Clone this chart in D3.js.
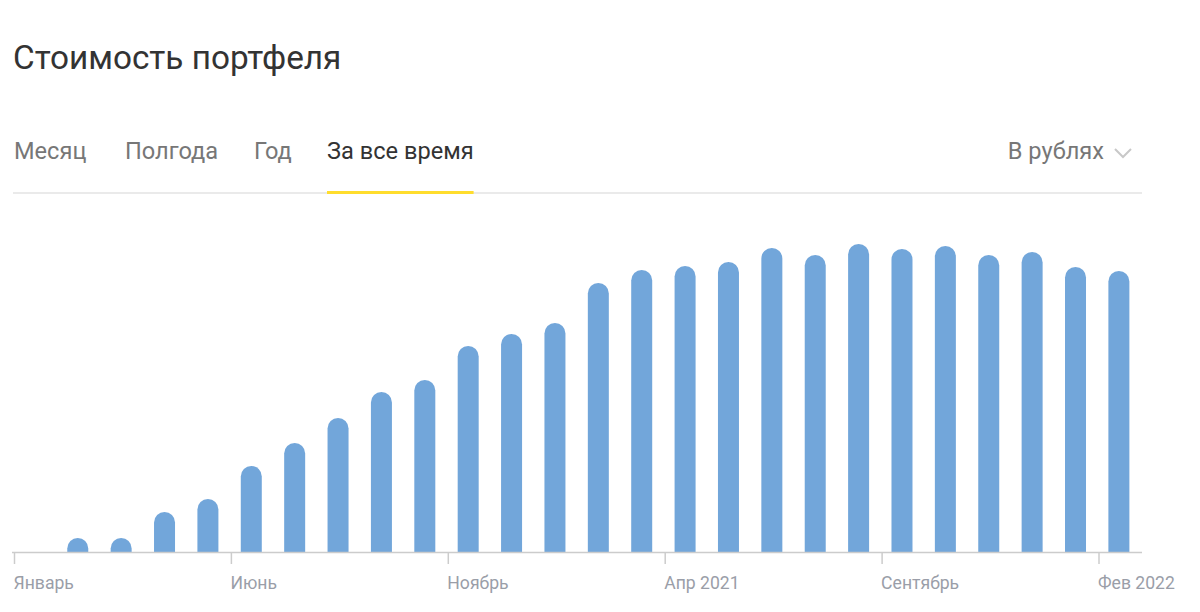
<!DOCTYPE html>
<html>
<head>
<meta charset="utf-8">
<script src="https://cdn.jsdelivr.net/npm/d3@7"></script>
<style>
  html, body { margin: 0; padding: 0; background: #fff; }
  svg { display: block; font-family: Roboto, "Noto Sans", sans-serif; }
</style>
</head>
<body>
<svg id="chart" width="1200" height="612"></svg>
<script>
// ---- data ----
const title = "Стоимость портфеля";
const tabs = ["Месяц", "Полгода", "Год", "За все время"];
const activeTab = "За все время";
const currencyLabel = "В рублях";
// months since Jan 2020 (0 = Январь 2020)
const barMonths = [1,2,3,4,5,6,7,8,9,10,11,12,13,14,15,16,17,18,19,20,21,22,23,24,25];
const barValues = [14,14,40,53,86,109,134,160,172,206,218,229,269,282,286,290,304,297,308,303,306,297,300,285,281];
const tickMonths = [0, 5, 10, 15, 20, 25];
const tickLabels = ["Январь", "Июнь", "Ноябрь", "Апр 2021", "Сентябрь", "Фев 2022"];

// ---- layout ----
const svg = d3.select("#chart");
const baseY = 552;
const x = d3.scaleLinear().domain([0, 25]).range([14, 1098.5]);
const y = d3.scaleLinear().domain([0, 330]).range([baseY, baseY - 330]);
const barW = 21, r = 10.5, monthOffset = 0.47;

// title
svg.append("text").attr("x", 13).attr("y", 69)
  .attr("font-size", 33.3).attr("fill", "#333333").text(title);

// tabs
const tabX = [14, 125, 254, 327];
const tabFont = 23.6;
tabs.forEach((t, i) => {
  svg.append("text").attr("x", tabX[i]).attr("y", 159)
    .attr("font-size", tabFont)
    .attr("fill", t === activeTab ? "#333333" : "#777777")
    .text(t);
});
svg.append("line").attr("x1", 13).attr("x2", 1142).attr("y1", 193).attr("y2", 193)
  .attr("stroke", "#e3e3e3").attr("stroke-width", 1.5);
const act = svg.append("text").attr("visibility", "hidden").attr("font-size", tabFont).text(activeTab);
const aw = act.node().getComputedTextLength(); act.remove();
svg.append("rect").attr("x", 327).attr("y", 191).attr("width", aw).attr("height", 3)
  .attr("fill", "#ffdd2d");

// currency selector
svg.append("text").attr("x", 1104).attr("y", 159).attr("text-anchor", "end")
  .attr("font-size", tabFont).attr("fill", "#777777").text(currencyLabel);
svg.append("path").attr("d", "M1115,149 L1123,157 L1131,149")
  .attr("fill", "none").attr("stroke", "#c8c8c8").attr("stroke-width", 2);

// bars with rounded tops
const barPath = (m, v) => {
  const cx = x(m + monthOffset);
  const x0 = cx - barW / 2, x1 = cx + barW / 2;
  const top = y(v);
  return `M${x0},${baseY} L${x0},${top + r} A${r},${r} 0 0 1 ${x1},${top + r} L${x1},${baseY} Z`;
};
svg.append("g").selectAll("path").data(barMonths).join("path")
  .attr("d", (m, i) => barPath(m, barValues[i]))
  .attr("fill", "#72a6da");

// axis
const axis = d3.axisBottom(x).tickValues(tickMonths)
  .tickFormat((d, i) => tickLabels[i]).tickSize(12).tickSizeOuter(0);
const ag = svg.append("g").attr("transform", `translate(0,${baseY})`).call(axis);
ag.select(".domain").attr("d", `M12,0.5H1142`).attr("stroke", "#cccccc").attr("stroke-width", 1.5);
ag.selectAll(".tick line").attr("stroke", "#cccccc").attr("stroke-width", 1.5);
ag.selectAll(".tick text").attr("text-anchor", "start").attr("x", -1).attr("y", 25)
  .attr("font-size", 17.6).attr("fill", "#9a9ea8").attr("font-family", "Roboto, sans-serif");
</script>
</body>
</html>
